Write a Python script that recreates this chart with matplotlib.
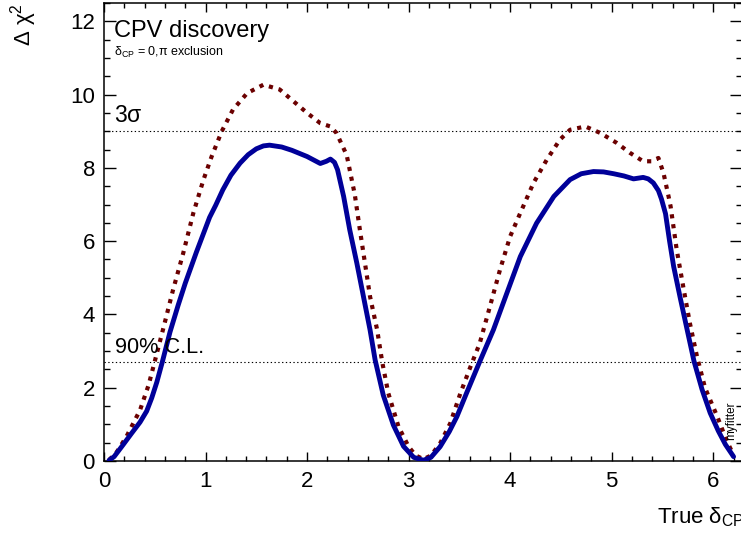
import numpy as np
import matplotlib
matplotlib.use("Agg")
import matplotlib.pyplot as plt

plt.rcParams['font.family'] = ['Liberation Sans', 'DejaVu Sans']
plt.rcParams['mathtext.fontset'] = 'custom'
plt.rcParams['mathtext.rm'] = 'Liberation Sans'
plt.rcParams['mathtext.it'] = 'Liberation Sans'
plt.rcParams['mathtext.bf'] = 'Liberation Sans:bold'

# ---- data ----
x_blue = [0.05, 0.10, 0.19, 0.27, 0.355, 0.42, 0.47, 0.52, 0.575, 0.65, 0.73, 0.80,
          0.91, 1.04, 1.10, 1.17, 1.25, 1.34, 1.42, 1.50, 1.57, 1.63, 1.75, 1.85,
          2.00, 2.13, 2.19, 2.23, 2.27, 2.30, 2.36, 2.42, 2.49, 2.555, 2.62, 2.67,
          2.75, 2.85, 2.95, 3.05, 3.146, 3.22, 3.31, 3.40, 3.475, 3.57, 3.70, 3.835,
          3.95, 4.10, 4.26, 4.43, 4.59, 4.70, 4.82, 4.92, 5.02, 5.12, 5.215, 5.31,
          5.36, 5.41, 5.46, 5.49, 5.53, 5.57, 5.61, 5.675, 5.74, 5.81, 5.89, 5.97,
          6.05, 6.12, 6.20]
y_blue = [0.02, 0.12, 0.45, 0.75, 1.06, 1.36, 1.72, 2.15, 2.71, 3.52, 4.25, 4.85,
          5.70, 6.65, 6.98, 7.40, 7.80, 8.13, 8.36, 8.52, 8.60, 8.62, 8.57, 8.48,
          8.31, 8.12, 8.18, 8.24, 8.15, 7.95, 7.22, 6.31, 5.40, 4.49, 3.58, 2.76,
          1.80, 0.98, 0.40, 0.10, 0.02, 0.10, 0.39, 0.80, 1.21, 1.85, 2.71, 3.58,
          4.45, 5.58, 6.49, 7.22, 7.68, 7.84, 7.90, 7.89, 7.84, 7.78, 7.70, 7.74,
          7.70, 7.59, 7.38, 7.15, 6.75, 6.00, 5.31, 4.45, 3.62, 2.73, 1.95, 1.31,
          0.82, 0.45, 0.12]

x_red = [0.05, 0.12, 0.22, 0.355, 0.44, 0.50, 0.585, 0.68, 0.78, 0.88, 0.98, 1.06,
         1.16, 1.27, 1.41, 1.57, 1.73, 1.865, 2.00, 2.13, 2.23, 2.29, 2.39, 2.47,
         2.52, 2.57, 2.62, 2.69, 2.74, 2.80, 2.90, 3.00, 3.07, 3.146, 3.22, 3.31,
         3.41, 3.51, 3.61, 3.70, 3.80, 3.90, 4.00, 4.10, 4.23, 4.36, 4.49, 4.59,
         4.74, 4.89, 5.05, 5.18, 5.31, 5.39, 5.46, 5.51, 5.56, 5.58, 5.64, 5.71,
         5.77, 5.84, 5.92, 6.04, 6.13, 6.20]
y_red = [0.03, 0.22, 0.66, 1.39, 2.08, 2.72, 3.63, 4.67, 5.67, 6.77, 7.68, 8.31,
         9.00, 9.59, 10.04, 10.27, 10.14, 9.82, 9.50, 9.22, 9.13, 8.95, 8.35, 7.27,
         6.31, 5.40, 4.49, 3.58, 2.70, 1.85, 0.94, 0.39, 0.15, 0.05, 0.15, 0.48,
         1.03, 1.85, 2.58, 3.21, 4.21, 5.22, 6.13, 6.77, 7.59, 8.22, 8.77, 9.04,
         9.13, 8.95, 8.68, 8.41, 8.18, 8.18, 8.27, 7.86, 7.22, 6.95, 5.77, 4.67,
         3.76, 2.85, 1.99, 1.21, 0.57, 0.16]

level_3sigma = 9.0
level_90cl = 2.71
x_ticks = [0, 1, 2, 3, 4, 5, 6]
y_ticks = [0, 2, 4, 6, 8, 10, 12]

W, H = 741, 535
fig = plt.figure(figsize=(W / 100, H / 100), dpi=100)
ax = fig.add_axes([104 / W, (H - 461) / H, 638 / W, 458 / H])

ax.axhline(level_3sigma, color='black', lw=0.8, ls=(0, (1.2, 2.2)), zorder=1)
ax.axhline(level_90cl, color='black', lw=0.8, ls=(0, (1.2, 2.2)), zorder=1)

ax.plot(x_blue, y_blue, color='#000099', lw=3.5, solid_capstyle='round',
        solid_joinstyle='round', zorder=3)
ax.plot(x_red, y_red, color='#6b0000', lw=3.0, ls=(0, (1, 1.4)),
        dash_capstyle='butt', zorder=2)

ax.set_xlim(0, 2 * np.pi)
ax.set_ylim(0, 12.5)
ax.set_xticks(x_ticks)
ax.set_yticks(y_ticks)
ax.set_xticks(np.arange(0, 6.3, 0.2), minor=True)
ax.set_yticks(np.arange(0, 12.6, 0.5), minor=True)

ax.tick_params(axis='both', which='both', direction='in', top=True, right=True,
               labelsize=16, width=1.0, color='black')
ax.tick_params(axis='x', which='major', length=6.2, pad=7.5)
ax.tick_params(axis='x', which='minor', length=3.3)
ax.tick_params(axis='y', which='major', length=8.6, pad=6.5)
ax.tick_params(axis='y', which='minor', length=4.3)
for s in ax.spines.values():
    s.set_linewidth(1.1)

ax.text(0.10, 11.56, 'CPV discovery', fontsize=17, ha='left', va='baseline')
ax.text(0.10, 11.05, r'$\mathrm{\delta_{CP}}$ = 0,$\mathrm{\pi}$ exclusion', fontsize=9,
        ha='left', va='baseline')
ax.text(0.10, 9.26, r'3$\mathrm{\sigma}$', fontsize=16.5, ha='left', va='baseline')
ax.text(0.11, 2.95, '90% C.L.', fontsize=15.7, ha='left', va='baseline')
ax.text(6.18, 1.1, 'myfitter', fontsize=8.5, rotation=90, ha='center', va='center')

fig.text(657 / W, (H - 523) / H, r'True $\mathrm{\delta_{CP}}$', fontsize=16,
         ha='left', va='baseline')
fig.text(24 / W, 1 - 3 / H, r'$\mathrm{\Delta\ \chi^{2}}$', fontsize=16, rotation=90,
         ha='center', va='top')

fig.savefig('out.png', dpi=100)
